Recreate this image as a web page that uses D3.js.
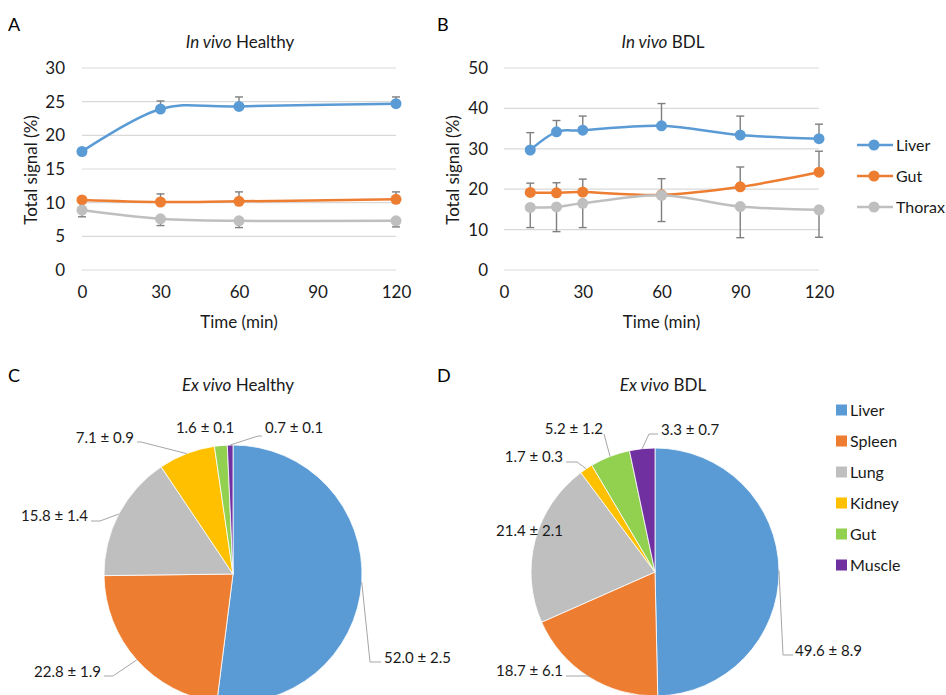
<!DOCTYPE html>
<html>
<head>
<meta charset="utf-8">
<script src="https://cdn.jsdelivr.net/npm/d3@7"></script>
<style>
  body { margin: 0; background: #fff; }
  svg { font-family: Lato, "Open Sans", sans-serif; }
</style>
</head>
<body>
<svg id="fig" width="946" height="695"></svg>
<script>
// ---- data ----
const xTicks = [0, 30, 60, 90, 120];
const seriesNames = ["Liver", "Gut", "Thorax"];

const timesHealthy = [0, 30, 60, 120];
const liverHealthy = [17.6, 23.9, 24.3, 24.7];
const liverHealthyErr = [0, 1.2, 1.4, 1.0];
const gutHealthy = [10.4, 10.1, 10.2, 10.5];
const gutHealthyErr = [0, 1.2, 1.4, 1.1];
const thoraxHealthy = [8.9, 7.6, 7.3, 7.3];
const thoraxHealthyErr = [1.0, 1.0, 1.0, 0.9];

const timesBDL = [10, 20, 30, 60, 90, 120];
const liverBDL = [29.7, 34.2, 34.6, 35.7, 33.4, 32.5];
const liverBDLErr = [4.3, 2.8, 3.5, 5.5, 4.7, 3.6];
const gutBDL = [19.2, 19.1, 19.3, 18.6, 20.6, 24.2];
const gutBDLErr = [2.3, 2.5, 3.2, 4.0, 4.9, 5.2];
const thoraxBDL = [15.5, 15.6, 16.5, 18.5, 15.7, 14.9];
const thoraxBDLErr = [5.0, 6.1, 6.0, 6.5, 7.7, 6.8];

const organs = ["Liver", "Spleen", "Lung", "Kidney", "Gut", "Muscle"];
const exHealthy = [52.0, 22.8, 15.8, 7.1, 1.6, 0.7];
const exHealthySD = [2.5, 1.9, 1.4, 0.9, 0.1, 0.1];
const exBDL = [49.6, 18.7, 21.4, 1.7, 5.2, 3.3];
const exBDLSD = [8.9, 6.1, 2.1, 0.3, 1.2, 0.7];

// ---- styles ----
const lineColors = ["#5b9bd5", "#ed7d31", "#bfbfbf"];
const pieColors = ["#5b9bd5", "#ed7d31", "#bfbfbf", "#ffc000", "#92d050", "#7030a0"];
const errDir = [1, 1, -1];
const txt = "#1a1a1a";

const svg = d3.select("#fig");

function panelLetter(t, x, y) {
  svg.append("text").attr("x", x).attr("y", y).attr("font-size", 18).attr("fill", "#000").text(t);
}

function title(it, rest, x, y) {
  const t = svg.append("text").attr("x", x).attr("y", y).attr("text-anchor", "middle")
    .attr("font-size", 17).attr("fill", txt);
  t.append("tspan").attr("font-style", "italic").text(it);
  t.append("tspan").text(" " + rest);
}

function lineChart(opt) {
  const x = d3.scaleLinear().domain([0, 120]).range(opt.xr);
  const y = d3.scaleLinear().domain([0, opt.ymax]).range([270, 68]);
  const g = svg.append("g");
  const yTicks = d3.range(0, opt.ymax + 1, opt.step);

  g.selectAll(".grid").data(yTicks).join("line")
    .attr("x1", opt.xr[0]).attr("x2", opt.xr[1])
    .attr("y1", d => y(d)).attr("y2", d => y(d))
    .attr("stroke", "#d9d9d9").attr("stroke-width", 1.2);

  const ya = d3.axisLeft(y).tickValues(yTicks).tickSize(0).tickPadding(opt.yPad);
  g.append("g").attr("transform", `translate(${opt.xr[0]},0)`).call(ya)
    .call(s => s.select(".domain").remove())
    .selectAll("text").attr("font-size", 17).attr("fill", txt).attr("font-family", "Lato");
  const xa = d3.axisBottom(x).tickValues(xTicks).tickSize(0).tickPadding(16);
  g.append("g").attr("transform", "translate(0,270)").call(xa)
    .call(s => s.select(".domain").remove())
    .selectAll("text").attr("font-size", 17).attr("fill", txt).attr("font-family", "Lato");

  g.append("text").attr("x", (opt.xr[0] + opt.xr[1]) / 2).attr("y", 328)
    .attr("text-anchor", "middle").attr("font-size", 17).attr("fill", txt).text("Time (min)");
  g.append("text").attr("transform", `translate(${opt.yTitleX},170) rotate(-90)`)
    .attr("text-anchor", "middle").attr("font-size", 17).attr("fill", txt).text("Total signal (%)");

  const line = d3.line().x(d => x(d.t)).y(d => y(d.v)).curve(d3.curveCardinal.tension(0));

  opt.series.forEach((s, i) => {
    const pts = opt.times.map((t, j) => ({ t, v: s.v[j], e: s.e[j] }));
    const eb = g.append("g").attr("stroke", "#7f7f7f").attr("stroke-width", 1.4);
    pts.filter(p => p.e > 0).forEach(p => {
      const yEnd = y(p.v + errDir[i] * p.e);
      eb.append("line").attr("x1", x(p.t)).attr("x2", x(p.t)).attr("y1", y(p.v)).attr("y2", yEnd);
      eb.append("line").attr("x1", x(p.t) - 4).attr("x2", x(p.t) + 4).attr("y1", yEnd).attr("y2", yEnd);
    });
    g.append("path").datum(pts).attr("d", line).attr("fill", "none")
      .attr("stroke", lineColors[i]).attr("stroke-width", 2.5);
    g.selectAll(null).data(pts).join("circle")
      .attr("cx", d => x(d.t)).attr("cy", d => y(d.v)).attr("r", 5.5)
      .attr("fill", lineColors[i]);
  });
}

panelLetter("A", 8, 31);
title("In vivo", "Healthy", 240, 48);
lineChart({
  xr: [82, 396], ymax: 30, step: 5, yPad: 17, yTitleX: 37, times: timesHealthy,
  series: [
    { v: liverHealthy, e: liverHealthyErr },
    { v: gutHealthy, e: gutHealthyErr },
    { v: thoraxHealthy, e: thoraxHealthyErr }
  ]
});

panelLetter("B", 437, 31);
title("In vivo", "BDL", 663, 48);
lineChart({
  xr: [504, 819], ymax: 50, step: 10, yPad: 16, yTitleX: 459, times: timesBDL,
  series: [
    { v: liverBDL, e: liverBDLErr },
    { v: gutBDL, e: gutBDLErr },
    { v: thoraxBDL, e: thoraxBDLErr }
  ]
});

// line legend
const lg = svg.append("g");
seriesNames.forEach((n, i) => {
  const yy = 145 + i * 31;
  lg.append("line").attr("x1", 857).attr("x2", 893).attr("y1", yy).attr("y2", yy)
    .attr("stroke", lineColors[i]).attr("stroke-width", 2.5);
  lg.append("circle").attr("cx", 874).attr("cy", yy).attr("r", 5.5).attr("fill", lineColors[i]);
  lg.append("text").attr("x", 896).attr("y", yy + 5.5).attr("font-size", 16).attr("fill", txt).text(n);
});

// ---- pies ----
function pieChart(opt) {
  const g = svg.append("g").attr("transform", `translate(${opt.cx},${opt.cy})`);
  const arcs = d3.pie().sort(null).value(d => d)(opt.values);
  const arc = d3.arc().innerRadius(0).outerRadius(opt.r);
  g.selectAll("path").data(arcs).join("path")
    .attr("d", arc).attr("fill", (d, i) => pieColors[i])
    .attr("stroke", "#fff").attr("stroke-width", 0.8);

  arcs.forEach((a, i) => {
    const L = opt.labels[i];
    const mid = (a.startAngle + a.endAngle) / 2;
    const edge = [Math.sin(mid) * opt.r, -Math.cos(mid) * opt.r];
    if (L.lead) {
      g.append("polyline")
        .attr("points", [edge, ...L.lead].map(p => p.join(",")).join(" "))
        .attr("fill", "none").attr("stroke", "#a6a6a6").attr("stroke-width", 1);
    }
    g.append("text").attr("x", L.x).attr("y", L.y + 5).attr("text-anchor", L.anchor)
      .attr("font-size", 15).attr("fill", txt)
      .text(opt.values[i].toFixed(1) + " \u00b1 " + opt.sd[i].toFixed(1));
  });
}

panelLetter("C", 8, 382);
title("Ex vivo", "Healthy", 238, 391);
pieChart({
  cx: 233, cy: 574, r: 129, values: exHealthy, sd: exHealthySD,
  labels: [
    { x: 151, y: 84, anchor: "start", lead: [[137, 88], [148, 88]] },
    { x: -132, y: 98, anchor: "end", lead: [[-120, 102], [-129, 102]] },
    { x: -145, y: -58, anchor: "end", lead: [[-133, -53], [-142, -53]] },
    { x: -99, y: -136, anchor: "end", lead: [[-92, -132], [-96, -132]] },
    { x: -28, y: -146, anchor: "middle" },
    { x: 32, y: -146, anchor: "start", lead: [[25, -138], [29, -138]] }
  ]
});

panelLetter("D", 437, 382);
title("Ex vivo", "BDL", 663, 391);
pieChart({
  cx: 655, cy: 572, r: 124, values: exBDL, sd: exBDLSD,
  labels: [
    { x: 140, y: 79, anchor: "start", lead: [[128, 83], [138, 83]] },
    { x: -92, y: 99, anchor: "end", lead: [[-66, 104], [-89, 104]] },
    { x: -92, y: -41, anchor: "end" },
    { x: -92, y: -115, anchor: "end", lead: [[-78, -110], [-89, -110]] },
    { x: -52, y: -143, anchor: "end", lead: [[-51, -138]] },
    { x: 6, y: -142, anchor: "start", lead: [[-6, -138], [3, -138]] }
  ]
});

// pie legend
const pl = svg.append("g");
organs.forEach((n, i) => {
  const yy = 410 + i * 31;
  pl.append("rect").attr("x", 836).attr("y", yy - 5.5).attr("width", 11).attr("height", 11)
    .attr("fill", pieColors[i]);
  pl.append("text").attr("x", 850).attr("y", yy + 5.5).attr("font-size", 16).attr("fill", txt).text(n);
});
</script>
</body>
</html>
